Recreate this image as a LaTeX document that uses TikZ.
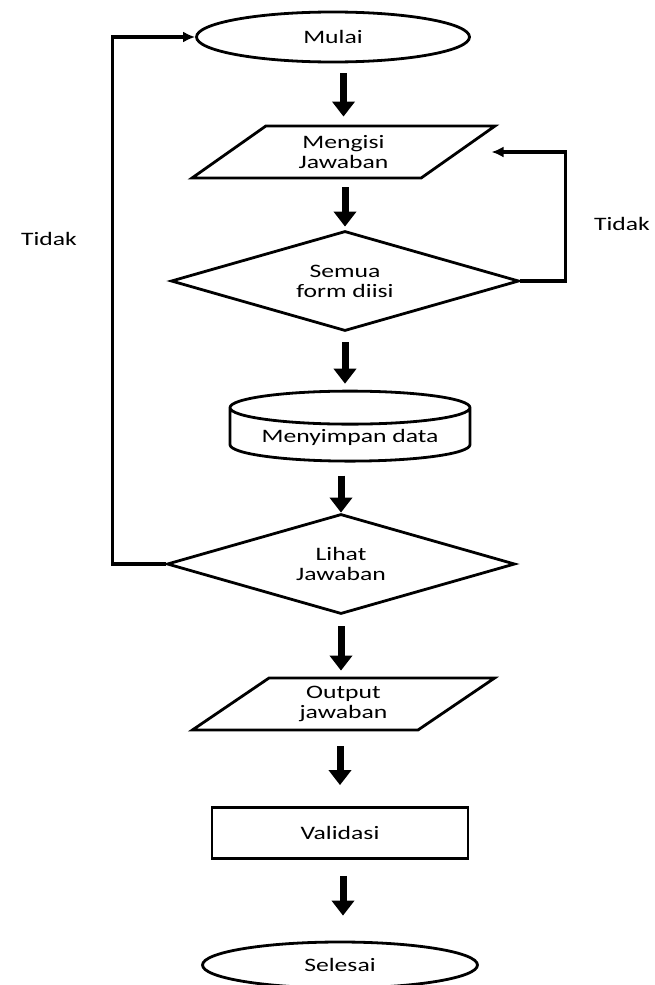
\documentclass[tikz,border=0pt]{standalone}
\usepackage{fontspec}
\setmainfont{Carlito}[FakeStretch=1.35]
\usetikzlibrary{shapes.geometric,arrows.meta}

\begin{document}
\begin{tikzpicture}[x=1pt,y=-1pt,
	font=\fontsize{19}{20}\selectfont,
	every node/.style={align=center},
	terminal/.style={
		draw, ellipse, line width=2.8pt,
		minimum width=273pt, minimum height=50pt
	},
	io/.style={
		draw, trapezium, trapezium stretches=true,
		trapezium left angle=41, trapezium right angle=139,
		line width=2.8pt, minimum width=303pt, minimum height=52pt
	},
	decision/.style={
		draw, diamond, aspect=3.5, line width=2.8pt, inner sep=0pt,
		minimum width=348pt, minimum height=100pt
	},
	storage/.style={
		draw, cylinder, shape border rotate=90, aspect=0.18,
		line width=2.8pt, minimum width=240pt, minimum height=70pt
	},
	process/.style={
		draw, rectangle, line width=2.8pt,
		minimum width=256pt, minimum height=51pt
	},
	flow/.style={
		line width=7pt, -{Triangle[width=22pt,length=15pt]}
	},
	back/.style={
		line width=3.5pt, -{Latex[width=11pt,length=12pt]}
	}
	]
	\useasboundingbox (0,0) rectangle (655,985);
	
	\node[terminal] (mulai) at (333,37) {Mulai};
	\node[io] (mengisi) at (343.5,152) {Mengisi\\Jawaban};
	\node[decision] (semua) at (345,281) {Semua\\form diisi};
	\node[storage] (simpan) at (350,437) {Menyimpan data};
	\node[decision] (lihat) at (341,564) {Lihat\\Jawaban};
	\node[io] (output) at (343.5,704) {Output\\jawaban};
	\node[process] (validasi) at (340,833) {Validasi};
	\node[terminal,minimum width=275pt,minimum height=46pt] (selesai) at (340,965) {Selesai};
	
	\node (tidakL) at (49,239) {Tidak};
	\node (tidakR) at (622,224) {Tidak};
	
	% main flow
	\draw[flow,shorten <=10pt,shorten >=8pt] (mengisi.north |- mulai.south) -- (mengisi.north);
	\draw[flow,shorten <=8pt,shorten >=3pt] (semua.north |- mengisi.south) -- (semua.north);
	\draw[flow,shorten <=10pt,shorten >=6pt] (semua.south) -- (semua.south |- simpan.north);
	\draw[flow,shorten <=13pt,shorten >=0pt] (lihat.north |- simpan.south) -- (lihat.north);
	\draw[flow,shorten <=11pt,shorten >=6pt] (lihat.south) -- (lihat.south |- output.north);
	\draw[flow,shorten <=15pt,shorten >=21pt] (validasi.north |- output.south) -- (validasi.north);
	\draw[flow,shorten <=16pt,shorten >=25pt] (validasi.south -| selesai.north) ++(3,0) -- ([xshift=3pt]selesai.north);
	
	% loops back
	\draw[back,shorten >=31pt] (semua.east) -- ++(45,0) |- (mengisi.east);
	\draw[back] (lihat.west) -- ++(-53,0) |- (mulai.west);
\end{tikzpicture}
\end{document}
